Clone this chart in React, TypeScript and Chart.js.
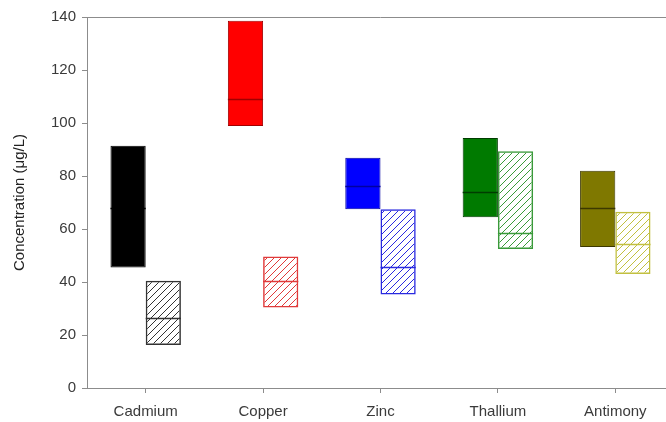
import React, { useEffect, useRef } from "react";
import { Chart, registerables } from "chart.js";

Chart.register(...registerables);

const categories = ["Cadmium", "Copper", "Zinc", "Thallium", "Antimony"];
const solidLow = [45.5, 98.9, 67.5, 64.4, 53.2];
const solidHigh = [91.4, 138.6, 86.9, 94.3, 82.0];
const solidMedian = [68.0, 109.0, 76.2, 74.0, 67.9];
const hatchLow = [16.2, 30.4, 35.3, 52.5, 43.0];
const hatchHigh = [40.5, 49.6, 67.5, 89.3, 66.5];
const hatchMedian = [26.5, 40.4, 45.5, 58.4, 54.3];
const yTickValues = [0, 20, 40, 60, 80, 100, 120, 140];

const solidColors = ["#000000", "#ff0000", "#0000ff", "#007a00", "#7f7800"];
const solidMedianColors = ["#000000", "#a00000", "#0000a0", "#003c00", "#3c3800"];
const hatchColors = ["#333333", "#e03a3a", "#2a2ae0", "#3a9a3a", "#c2c040"];

const FONT = "'Liberation Sans', Arial, sans-serif";

function makePattern(color: string): CanvasPattern | string {
  const size = 7;
  const c = document.createElement("canvas");
  c.width = size;
  c.height = size;
  const ctx = c.getContext("2d");
  if (!ctx) return "transparent";
  ctx.strokeStyle = color;
  ctx.lineWidth = 1;
  ctx.beginPath();
  ctx.moveTo(-1, size + 1);
  ctx.lineTo(size + 1, -1);
  ctx.moveTo(-1, 1);
  ctx.lineTo(1, -1);
  ctx.moveTo(size - 1, size + 1);
  ctx.lineTo(size + 1, size - 1);
  ctx.stroke();
  const p = ctx.createPattern(c, "repeat");
  return p || "transparent";
}

const medianPlugin = {
  id: "medianLines",
  afterDatasetsDraw(chart: any) {
    const ctx = chart.ctx;
    const yScale = chart.scales.y;
    const medians = [solidMedian, hatchMedian];
    const colors = [solidMedianColors, hatchColors];
    medians.forEach((med, di) => {
      const meta = chart.getDatasetMeta(di);
      meta.data.forEach((bar: any, j: number) => {
        const { x, width } = bar.getProps(["x", "width"], true);
        const y = Math.round(yScale.getPixelForValue(med[j])) + 0.5;
        ctx.save();
        ctx.strokeStyle = colors[di][j];
        ctx.lineWidth = 1.5;
        ctx.beginPath();
        ctx.moveTo(x - width / 2, y);
        ctx.lineTo(x + width / 2, y);
        ctx.stroke();
        ctx.restore();
      });
    });
  },
  afterDraw(chart: any) {
    const { ctx, chartArea } = chart;
    ctx.save();
    ctx.strokeStyle = "#8c8c8c";
    ctx.lineWidth = 1;
    ctx.beginPath();
    ctx.moveTo(chartArea.left, Math.round(chartArea.top) + 0.5);
    ctx.lineTo(chartArea.right, Math.round(chartArea.top) + 0.5);
    ctx.stroke();
    ctx.restore();
  },
};

export default function App() {
  const ref = useRef<HTMLCanvasElement | null>(null);

  useEffect(() => {
    if (!ref.current) return;
    const chart = new Chart(ref.current, {
      type: "bar",
      data: {
        labels: categories,
        datasets: [
          {
            label: "solid",
            data: categories.map((_, i) => [solidLow[i], solidHigh[i]]) as any,
            backgroundColor: solidColors,
            borderColor: solidMedianColors,
            borderWidth: 1,
            borderSkipped: false,
            categoryPercentage: 0.6,
            barPercentage: 1.0,
          },
          {
            label: "hatched",
            data: categories.map((_, i) => [hatchLow[i], hatchHigh[i]]) as any,
            backgroundColor: hatchColors.map((c) => makePattern(c)) as any,
            borderColor: hatchColors,
            borderWidth: 1.5,
            borderSkipped: false,
            categoryPercentage: 0.6,
            barPercentage: 1.0,
          },
        ],
      },
      options: {
        responsive: false,
        animation: false,
        layout: { padding: { top: 17, right: 2, left: 0, bottom: 0 } },
        plugins: {
          legend: { display: false },
          tooltip: { enabled: false },
        },
        scales: {
          x: {
            type: "category",
            offset: true,
            grid: {
              offset: false,
              drawOnChartArea: false,
              drawTicks: true,
              tickLength: 5,
              color: "#8c8c8c",
            },
            border: { display: true, color: "#8c8c8c" },
            ticks: {
              color: "#3a3a3a",
              padding: 10,
              font: { family: FONT, size: 15 },
            },
            afterFit: (scale: any) => {
              scale.height = 34;
            },
          },
          y: {
            min: 0,
            max: 140,
            afterBuildTicks: (scale: any) => {
              scale.ticks = yTickValues.map((v) => ({ value: v }));
            },
            grid: {
              drawOnChartArea: false,
              drawTicks: true,
              tickLength: 5,
              color: "#8c8c8c",
            },
            border: { display: true, color: "#8c8c8c" },
            ticks: {
              color: "#3a3a3a",
              padding: 6,
              font: { family: FONT, size: 15 },
            },
            title: {
              display: true,
              text: "Concentration (\u03bcg/L)",
              color: "#222222",
              font: { family: FONT, size: 15 },
              padding: { top: 11, bottom: 4 },
            },
            afterFit: (scale: any) => {
              scale.width = 87;
            },
          },
        },
      },
      plugins: [medianPlugin],
    });
    return () => chart.destroy();
  }, []);

  return (
    <div
      style={{
        position: "fixed",
        left: 0,
        top: 0,
        width: 666,
        height: 422,
        overflow: "hidden",
        background: "#ffffff",
      }}
    >
      <canvas ref={ref} width={676} height={422} style={{ display: "block" }} />
    </div>
  );
}
